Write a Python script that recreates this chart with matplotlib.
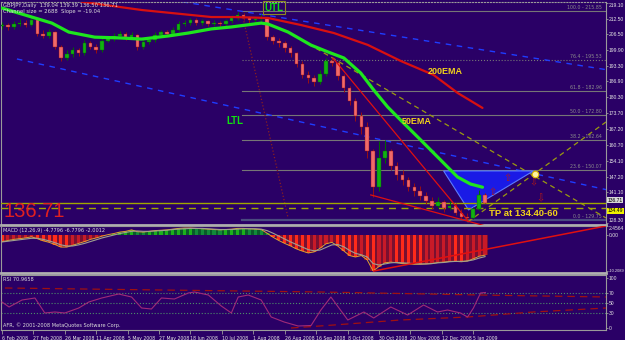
import numpy as np
import matplotlib.pyplot as plt
from matplotlib.patches import Polygon

BG = '#2a0066'

# price bars, one bar every 3 trading days (x = trading day index)
bar_open = [209.5, 210.0, 209.0, 210.5, 211.0, 210.2, 212.0, 206.5, 205.5, 207.0,
            201.0, 196.5, 198.0, 199.5, 198.5, 202.5, 201.0, 199.5, 203.5, 204.5,
            205.5, 206.5, 205.0, 206.0, 201.0, 203.0, 204.0, 206.0, 207.0, 206.5,
            208.0, 210.5, 211.0, 212.0, 211.0, 211.5, 210.5, 211.0, 210.5, 211.5,
            213.0, 214.0, 213.0, 212.0, 212.5, 213.0, 205.0, 203.5, 202.5, 200.5,
            198.5, 194.0, 189.5, 188.0, 186.5, 190.0, 195.0, 194.5, 189.0, 184.0,
            178.5, 172.5, 168.0, 158.0, 143.0, 155.0, 158.0, 152.0, 148.0, 146.0,
            143.0, 141.5, 139.5, 137.5, 135.5, 137.0, 134.5, 135.5, 132.5, 131.0,
            130.5, 134.0, 140.0]
bar_close = [210.0, 209.0, 210.5, 211.0, 210.2, 212.0, 206.5, 205.5, 207.0, 201.0,
             196.5, 198.0, 199.5, 198.5, 202.5, 201.0, 199.5, 203.5, 204.5, 205.5,
             206.5, 205.0, 206.0, 201.0, 203.0, 204.0, 206.0, 207.0, 206.5, 208.0,
             210.5, 211.0, 212.0, 211.0, 211.5, 210.5, 211.0, 210.5, 211.5, 213.0,
             214.0, 213.0, 212.0, 212.5, 213.0, 205.0, 203.5, 202.5, 200.5, 198.5,
             194.0, 189.5, 188.0, 186.5, 190.0, 195.0, 194.5, 189.0, 184.0, 178.5,
             172.5, 168.0, 158.0, 143.0, 155.0, 158.0, 152.0, 148.0, 146.0, 143.0,
             141.5, 139.5, 137.5, 135.5, 137.0, 134.5, 135.5, 132.5, 131.0, 130.5,
             134.0, 140.0, 136.71]
bar_high = [211.2, 211.0, 211.5, 212.3, 212.0, 213.0, 212.5, 207.8, 208.2, 207.5,
            201.8, 199.5, 201.0, 200.5, 204.0, 203.5, 202.0, 204.5, 205.5, 206.8,
            207.5, 207.3, 207.0, 206.5, 204.2, 205.0, 207.0, 208.0, 208.0, 209.2,
            211.5, 212.2, 213.0, 212.8, 212.5, 212.0, 212.0, 211.8, 212.5, 214.3,
            215.5, 214.8, 213.8, 213.5, 214.5, 213.5, 206.0, 204.5, 203.5, 201.5,
            199.0, 195.0, 191.0, 189.5, 191.5, 196.3, 196.5, 195.0, 190.0, 185.0,
            180.0, 174.0, 170.0, 159.0, 162.0, 162.5, 159.0, 153.5, 150.0, 147.5,
            145.0, 143.5, 141.0, 139.0, 139.0, 138.0, 137.5, 136.5, 134.0, 132.5,
            135.0, 141.8, 140.5]
bar_low = [208.3, 208.0, 208.2, 209.5, 209.0, 209.5, 205.3, 204.5, 204.8, 200.0,
           195.2, 195.5, 197.0, 197.2, 197.8, 200.0, 198.5, 199.0, 202.8, 203.5,
           204.5, 204.0, 204.2, 199.8, 200.2, 202.0, 203.0, 205.2, 205.3, 205.8,
           207.5, 209.5, 210.0, 210.0, 210.2, 209.5, 209.8, 209.5, 209.8, 210.8,
           212.0, 212.0, 211.0, 211.0, 211.8, 203.8, 202.0, 201.0, 199.0, 197.0,
           192.5, 188.0, 186.0, 184.8, 185.5, 189.0, 193.0, 187.5, 182.5, 177.0,
           170.5, 165.0, 155.0, 139.2, 141.5, 153.0, 150.0, 146.0, 144.0, 141.5,
           139.5, 138.0, 136.0, 134.0, 134.5, 133.0, 133.5, 131.5, 130.0, 129.8,
           130.0, 133.5, 136.5]
bar_day = np.arange(len(bar_close)) * 3

# moving averages (trading day, price)
ema50_day = [0, 25.4, 34.0, 47.2, 59.4, 71.1, 84.8, 94.9, 106.6, 116.8, 132.0, 135.5,
             145.7, 157.4, 166.0, 174.1, 182.7, 189.3, 196.4, 203.0, 213.2, 223.4,
             232.0, 238.6, 244.7]
ema50 = [217.0, 210.8, 207.1, 205.0, 204.7, 204.2, 205.5, 206.7, 208.4, 209.2, 210.8, 210.4,
         207.1, 201.7, 198.9, 196.4, 190.2, 183.2, 176.2, 170.8, 162.6, 154.3,
         147.3, 144.4, 143.1]
ema200_day = [40.6, 71.1, 106.6, 118.3, 135.5, 152.3, 169.0, 186.3, 203.0, 219.8, 232.0, 244.7]
ema200 = [219.6, 216.2, 213.3, 213.3, 212.9, 210.0, 206.7, 201.8, 195.2, 189.4, 182.0, 175.8]

# MACD, one value per bar
macd_hist = [-1.8, -1.5, -1.2, -1.0, -0.8, -0.5, -1.0, -1.6, -2.0, -2.6,
             -3.3, -3.3, -2.8, -2.3, -1.8, -1.2, -0.8, -0.3, 0.1, 0.4,
             0.8, 1.0, 1.4, 0.9, 0.8, 1.0, 1.2, 1.3, 1.4, 1.6,
             1.8, 1.9, 1.9, 1.8, 1.7, 1.6, 1.5, 1.4, 1.5, 1.6,
             1.8, 1.8, 1.7, 1.6, 1.5, 0.5, -0.6, -1.5, -2.3, -3.0,
             -3.8, -4.4, -4.9, -4.6, -3.6, -2.4, -2.0, -3.0, -4.3, -5.6,
             -6.0, -5.6, -6.8, -9.8, -8.6, -7.6, -7.4, -7.6, -7.8, -7.9,
             -8.0, -8.0, -7.9, -7.8, -7.5, -7.4, -7.2, -7.2, -7.3, -7.1,
             -6.5, -5.8, -5.5]
macd_signal = [-1.9, -1.7, -1.5, -1.3, -1.1, -0.9, -0.9, -1.2, -1.6, -2.1,
               -2.7, -3.0, -3.0, -2.7, -2.3, -1.8, -1.3, -0.8, -0.4, 0.0,
               0.4, 0.7, 1.0, 1.1, 1.0, 1.0, 1.1, 1.2, 1.3, 1.5,
               1.6, 1.7, 1.8, 1.8, 1.8, 1.7, 1.6, 1.5, 1.5, 1.5,
               1.6, 1.7, 1.7, 1.7, 1.6, 1.2, 0.5, -0.3, -1.1, -1.9,
               -2.6, -3.3, -4.0, -4.3, -4.1, -3.4, -2.7, -2.6, -3.2, -4.2,
               -5.0, -5.4, -6.0, -7.8, -8.2, -7.9, -7.6, -7.5, -7.6, -7.7,
               -7.8, -7.9, -7.9, -7.8, -7.6, -7.5, -7.3, -7.2, -7.2, -7.1,
               -6.8, -6.3, -5.9]

# RSI (trading day, value)
rsi_day = [0, 3.6, 10.2, 16.8, 21.8, 26.9, 32.0, 39.1, 44.2, 50.8, 59.4, 66.0, 71.1,
           76.1, 81.2, 87.8, 94.9, 98.0, 105.1, 111.7, 116.8, 120.3, 125.4, 132.0,
           137.1, 143.7, 150.8, 157.4, 162.4, 167.5, 176.1, 184.3, 189.3, 198.0,
           206.6, 214.7, 221.8, 226.9, 233.5, 237.1, 240.1, 243.7, 246.2]
rsi_val = [52, 42, 56, 60, 30, 32, 30, 40, 52, 60, 68, 62, 40, 38, 60, 58, 70, 72, 66,
           44, 30, 62, 66, 56, 22, 12, 4, 5, 36, 62, 16, 32, 20, 42, 26, 46, 32, 36,
           30, 22, 40, 70, 71]
rsi_up_day = [1.5, 81.2, 162.4, 243.7, 307.6]
rsi_up = [80, 76, 72, 66, 62]
rsi_lo_day = [147.2, 169.0, 203.0, 237.1, 270.6, 307.6]
rsi_lo = [0, 6, 16, 22, 32, 40]

# fibonacci retracement
fib_pct = ['100.0', '76.4', '61.8', '50.0', '38.2', '23.6', '0.0']
fib_price = [215.85, 195.53, 182.96, 172.80, 162.64, 150.07, 129.75]

price_ticks = [219.10, 212.50, 206.50, 199.90, 193.30, 186.90, 180.30, 173.70,
               167.20, 160.70, 154.10, 147.20, 141.10, 128.30]
date_labels = ['6 Feb 2008', '27 Feb 2008', '26 Mar 2008', '11 Apr 2008', '5 May 2008',
               '27 May 2008', '18 Jun 2008', '10 Jul 2008', '1 Aug 2008', '26 Aug 2008',
               '16 Sep 2008', '8 Oct 2008', '30 Oct 2008', '20 Nov 2008', '12 Dec 2008',
               '5 Jan 2009']

W, H = 625, 340
XMAX = 307.6
LBL = 3.6
LFONT = 'Liberation Sans'


def box(x0, y0, x1, y1):
    return [x0 / W, 1 - y1 / H, (x1 - x0) / W, (y1 - y0) / H]


fig = plt.figure(figsize=(6.25, 3.4), dpi=100, facecolor=BG)
ax = fig.add_axes(box(1, 2, 606, 225))
am = fig.add_axes(box(1, 226, 606, 273))
ar = fig.add_axes(box(1, 275, 606, 330))

for a in (ax, am, ar):
    a.set_facecolor(BG)
    a.set_xlim(-0.5, XMAX)
    a.yaxis.tick_right()
    a.tick_params(axis='y', colors='#9a9a9a', labelcolor='#e4e4e4', labelsize=LBL,
                  length=1.5, width=0.6, pad=0.6, labelfontfamily=LFONT)
    for s in a.spines.values():
        s.set_color('#9a9a9a')
        s.set_linewidth(0.8)
ax.tick_params(axis='x', bottom=False, labelbottom=False)
am.tick_params(axis='x', bottom=False, labelbottom=False)
ax.spines['bottom'].set_linewidth(2)
ax.spines['bottom'].set_color('#b0b0b0')
am.spines['bottom'].set_linewidth(2)
am.spines['bottom'].set_color('#b0b0b0')
ax.spines['top'].set_linestyle(':')

# ---------- main price panel ----------
ax.set_ylim(127.5, 219.5)
ax.set_yticks(price_ticks)
ax.set_yticklabels([f'{v:.2f}' for v in price_ticks])
ylabels = ax.get_yticklabels()
ylabels[0].set_va('top')
ylabels[-1].set_va('bottom')

for pct, p in zip(fib_pct, fib_price):
    ls = ':' if pct == '76.4' else '-'
    col = '#4a4a80' if pct == '0.0' else '#767676'
    lw = 1.6 if pct == '0.0' else 0.8
    ax.plot([122, XMAX], [p, p], color=col, lw=lw, ls=ls, zorder=1)
    ax.text(XMAX - 2, p + 0.4, f'{pct} - {p:.2f}', color='#8c8c8c', fontsize=3.4,
            ha='right', va='bottom', zorder=2)

# channel / trend lines (trading day, price)
ax.plot([86.3, XMAX], [220.3, 191.6], color='#1f3cff', lw=1.0, ls=(0, (4, 4)), zorder=2)
ax.plot([7.6, XMAX], [196.0, 142.1], color='#1f3cff', lw=1.0, ls=(0, (4, 4)), zorder=2)
ax.plot([122.8, 145.7], [212.9, 130.4], color='#8a2020', lw=0.9, ls=':', zorder=2)
ax.plot([152.3, XMAX], [204.0, 130.4], color='#9a9a10', lw=0.9, ls=(0, (4, 3)), zorder=2)
ax.plot([237.1, XMAX], [128.7, 170.0], color='#9a9a10', lw=0.9, ls=(0, (4, 3)), zorder=2)

tri = Polygon([[224.9, 149.8], [270.6, 149.8], [237.6, 133.7]], closed=True,
              facecolor='#1a1ae6', edgecolor='#5a7cff', lw=0.8, zorder=2)
ax.add_patch(tri)

# bid and target lines
ax.plot([-0.5, XMAX], [136.71, 136.71], color='#a0a800', lw=1.0, zorder=3)
ax.plot([-0.5, XMAX], [134.49, 134.49], color='#a0a800', lw=1.0, ls=(0, (5, 4)), zorder=3)

# candles
o = np.array(bar_open)
c = np.array(bar_close)
up = c >= o
body_col = np.where(up, '#12b012', '#f06a6a')
wick_col = np.where(up, '#006a00', '#9a1010')
ax.vlines(bar_day, bar_low, bar_high, colors=wick_col, lw=0.7, zorder=4)
ax.bar(bar_day, np.maximum(np.abs(c - o), 0.25), bottom=np.minimum(o, c), width=1.8,
       color=body_col, edgecolor=wick_col, linewidth=0.3, zorder=5)

ax.plot(ema200_day, ema200, color='#d81010', lw=1.6, zorder=6, solid_capstyle='round')
ax.plot(ema50_day, ema50, color='#1ee61e', lw=2.3, zorder=6, solid_capstyle='round')
ax.plot([168.5, 237.1], [196.4, 129.5], color='#e01010', lw=0.9, zorder=6)
ax.plot([187.8, 246.2], [139.9, 127.1], color='#e01010', lw=0.9, zorder=6)

ax.scatter([271.6], [148.5], s=22, color='#fff3a0', edgecolor='#e0c000', lw=0.8, zorder=8)
for d, p, ch in [(257.4, 146.9, '\u21e7'), (249.7, 141.1, '\u21e7'),
                 (270.6, 145.2, '\u21e9'), (274.1, 138.6, '\u21e9')]:
    ax.text(d, p, ch, color='#b01818', fontsize=7, ha='center', va='center', zorder=7)

ax.text(138.6, 217.2, 'UTL', color='#10e010', fontsize=7, fontweight='bold',
        family=LFONT, ha='center', va='center', zorder=8,
        bbox=dict(boxstyle='square,pad=0.15', fc='none', ec='#8a8a20', lw=0.8))
ax.text(118.5, 170.4, 'LTL', color='#10e010', fontsize=7, fontweight='bold',
        family=LFONT, ha='center', va='center', zorder=8)
ax.text(225.6, 190.8, '200EMA', color='#f2d21a', fontsize=6.5, fontweight='bold',
        family=LFONT, ha='center', va='center', zorder=8)
ax.text(211.2, 170.2, '50EMA', color='#f2d21a', fontsize=6.5, fontweight='bold',
        family=LFONT, ha='center', va='center', zorder=8)
ax.text(265.5, 132.2, 'TP at 134.40-60', color='#f2d21a', fontsize=6.8, fontweight='bold',
        family=LFONT, ha='center', va='center', zorder=8)
ax.text(1.0, 130.8, '136.71', color='#e02020', fontsize=14.5, family=LFONT,
        ha='left', va='baseline', zorder=8)

ax.text(1.003, 136.71, '136.71', transform=ax.get_yaxis_transform(), fontsize=LBL,
        family=LFONT, color='#000000', ha='left', va='bottom',
        bbox=dict(boxstyle='square,pad=0.1', fc='#d8d8d8', ec='none'))
ax.text(1.003, 134.49, '134.49', transform=ax.get_yaxis_transform(), fontsize=LBL,
        family=LFONT, color='#000000', ha='left', va='top',
        bbox=dict(boxstyle='square,pad=0.1', fc='#f0f000', ec='none'))

fig.text(3 / W, 1 - 3 / H, 'GBPJPY,Daily  139.04 139.39 136.50 136.71', color='#dcdcdc',
         fontsize=3.8, va='top')
fig.text(3 / W, 1 - 9 / H, 'Channel size = 2688  Slope = -19.04', color='#dcdcdc',
         fontsize=3.8, va='top')

# ---------- MACD panel ----------
am.set_ylim(-10.37, 2.4564)
am.set_yticks([2.4564, 0, -9.75])
am.set_yticklabels(['2.4564', '0.00', '-10.2089'])
mlabels = am.get_yticklabels()
mlabels[0].set_va('top')
mlabels[-1].set_fontsize(2.9)
h = np.array(macd_hist)
prev = np.concatenate([[h[0]], h[:-1]])
base_col = np.where(h >= 0, '#0a5a2a', '#7a1030')
hist_col = np.where(h >= 0, np.where(h >= prev, '#1cb01c', '#128a3a'),
                    np.where(h <= prev, '#ff2a1a', '#c81a28'))
am.bar(bar_day, h, width=3.0, color=base_col, linewidth=0, zorder=2)
am.bar(bar_day, h, width=1.6, color=hist_col, linewidth=0, zorder=2)
am.plot(bar_day, h, color='#e0a030', lw=0.7, zorder=3)
am.plot(bar_day, macd_signal, color='#a0a090', lw=0.8, zorder=3)
am.plot([189.3, XMAX], [-9.83, 2.46], color='#e01010', lw=1.1, zorder=4)
fig.text(3 / W, 1 - 228 / H, 'MACD (12,26,9) -4.7796 -6.7796 -2.0012', color='#dcdcdc',
         fontsize=3.6, va='top')

# ---------- RSI panel ----------
ar.set_ylim(-4, 106)
ar.set_yticks([100, 70, 50, 30, 0])
ar.set_yticklabels(['100', '70', '50', '30', '0'])
for lvl in (70, 50, 30):
    ar.axhline(lvl, color='#4c8c6a', lw=0.8, ls=':', zorder=1)
ar.plot(rsi_up_day, rsi_up, color='#a01010', lw=0.9, ls=(0, (6, 4)), zorder=2)
ar.plot(rsi_lo_day, rsi_lo, color='#a01010', lw=0.9, ls=(0, (6, 4)), zorder=2)
ar.plot(rsi_day, rsi_val, color='#a02a78', lw=0.8, zorder=3)
fig.text(3 / W, 1 - 277 / H, 'RSI 70.9658', color='#dcdcdc', fontsize=3.6, va='top')
fig.text(3 / W, 1 - 322 / H, 'AFR, \u00a9 2001-2008 MetaQuotes Software Corp.',
         color='#dcdcdc', fontsize=3.6, va='top')

ar.set_xticks(np.arange(len(date_labels)) * 16)
ar.set_xticklabels(date_labels, ha='left')
ar.tick_params(axis='x', colors='#9a9a9a', labelcolor='#e4e4e4', labelsize=3.3,
               length=3, width=0.6, pad=1)

fig.savefig('out.png', dpi=100, facecolor=BG)
